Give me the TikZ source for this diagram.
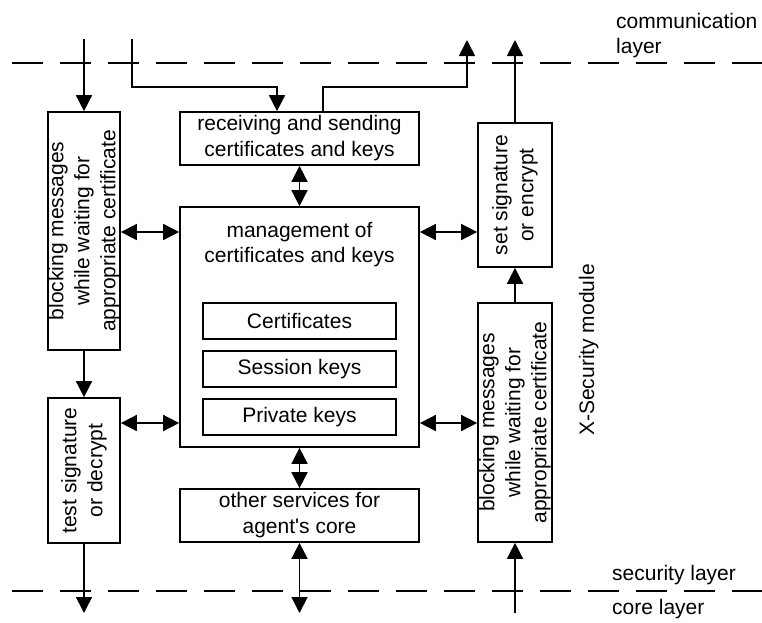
\documentclass[tikz,border=0pt]{standalone}
\usepackage{fontspec}
\setmainfont{Liberation Sans}
\usetikzlibrary{arrows.meta}

\tikzset{
  box/.style={draw, line width=1.7pt, inner sep=0pt, align=center},
  vtext/.style={rotate=90, inner sep=0pt, align=center},
  wire/.style={line width=1.6pt},
  tip/.tip={Triangle[length=16pt,width=16pt]},
  arr/.style={wire, -tip},
  dbl/.style={wire, tip-tip},
  layerline/.style={line width=2pt, dash pattern=on 31pt off 17pt},
  lbl/.style={anchor=base west, inner sep=0pt},
}

\begin{document}
\begin{tikzpicture}[x=1pt, y=-1pt, font=\fontsize{21}{26}\selectfont]
\fill[white] (0,0) rectangle (762,622);
\useasboundingbox (0,0) rectangle (762,622);

% layer boundaries
\draw[layerline] (12,63) -- (762,63);
\draw[layerline] (12,591) -- (762,591);

% layer names
\node[lbl] (comm) at (616,28) {communication};
\node[lbl] (commb) at (616,53) {layer};
\node[lbl] (sec) at (612,580) {security layer};
\node[lbl] (core) at (612,614) {core layer};
\node[rotate=90, anchor=base, inner sep=0pt] (xsec) at (594,350) {X-Security module};

% central column
\node[box, minimum width=239pt, minimum height=53pt] (rs) at (299.5,138.5)
  {receiving and sending\\certificates and keys};
\node[box, minimum width=239pt, minimum height=240pt] (mg) at (299.5,327) {};
\node[inner sep=0pt, align=center, font=\fontsize{21}{25}\selectfont] (mgt) at (299.5,244.5)
  {management of\\certificates and keys};
\node[box, minimum width=193pt, minimum height=36pt] (cert) at (299.5,321) {Certificates};
\node[box, minimum width=193pt, minimum height=36pt] (sess) at (299.5,369) {Session keys};
\node[box, minimum width=193pt, minimum height=36pt] (priv) at (299.5,417) {Private keys};
\node[box, minimum width=239pt, minimum height=53pt] (os) at (299.5,515.5)
  {other services for\\agent\textquotesingle s core};

% left column
\node[box, minimum width=72pt, minimum height=238pt] (lb) at (84,231) {};
\node[vtext] (lbt) at (lb) {blocking messages\\while waiting for\\appropriate certificate};
\node[box, minimum width=72pt, minimum height=145pt] (tsd) at (84,470.5) {};
\node[vtext] (tsdt) at (tsd) {test signature\\or decrypt};

% right column
\node[box, minimum width=74pt, minimum height=144pt] (se) at (515,195) {};
\node[vtext] (set) at (se) {set signature\\or encrypt};
\node[box, minimum width=74pt, minimum height=239pt] (rb) at (515,422.5) {};
\node[vtext] (rbt) at (rb) {blocking messages\\while waiting for\\appropriate certificate};

% free ends and bends
\coordinate (inL) at (84,39);
\coordinate (inR) at (132,39);
\coordinate (j1) at (277,87);
\coordinate (j2) at (323,87);
\coordinate (outT) at (467,40);
\coordinate (outR) at (515,40);
\coordinate (outB) at (84,613);
\coordinate (coreC) at (299.5,613);
\coordinate (inB) at (515,613);
\coordinate (ya) at (0,232);
\coordinate (yb) at (0,423);

% connectors
\draw[arr] (inL) -- (lb.north);
\draw[arr] (inR) |- (j1) -- (j1 |- rs.north);
\draw[arr] (j2 |- rs.north) -- (j2) -| (outT);
\draw[arr] (se.north) -- (outR);
\draw[dbl] (rs.south) -- (mg.north);
\draw[dbl] (lb.east |- ya) -- (mg.west |- ya);
\draw[dbl] (tsd.east |- yb) -- (mg.west |- yb);
\draw[dbl] (mg.east |- ya) -- (se.west |- ya);
\draw[dbl] (mg.east |- yb) -- (rb.west |- yb);
\draw[arr] (lb.south) -- (tsd.north);
\draw[arr] (tsd.south) -- (outB);
\draw[dbl] (mg.south) -- (os.north);
\draw[dbl] (os.south) -- (coreC);
\draw[arr] (inB) -- (rb.south);
\draw[arr] (rb.north) -- (se.south);
\end{tikzpicture}
\end{document}
